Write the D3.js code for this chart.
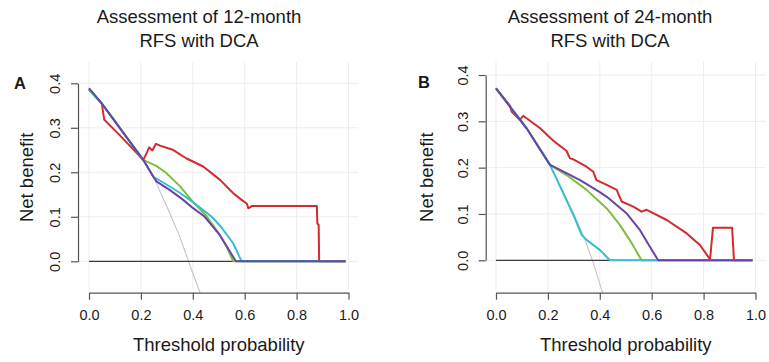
<!DOCTYPE html>
<html>
<head>
<meta charset="utf-8">
<script src="https://cdn.jsdelivr.net/npm/d3@7"></script>
<style>
  body { margin: 0; background: #fff; }
  text { font-family: "Liberation Sans", Arial, sans-serif; fill: #1a1a1a; }
</style>
</head>
<body>
<svg id="chart" width="769" height="362"></svg>
<script>
// tick values
var xTicks = [0, 0.2, 0.4, 0.6, 0.8, 1.0];
var yTicks = [0, 0.1, 0.2, 0.3, 0.4];

// panel A: 12-month RFS  ([threshold, net benefit])
var noneA   = [[0, 0], [0.99, 0]];
var allA    = [[0, 0.386], [0.1, 0.318], [0.2, 0.232], [0.248, 0.19], [0.3, 0.123], [0.35, 0.055], [0.396, -0.02], [0.427, -0.069], [0.44, -0.09]];
var redA    = [[0, 0.386], [0.049, 0.355], [0.059, 0.318], [0.119, 0.283], [0.209, 0.228], [0.222, 0.243], [0.232, 0.256], [0.244, 0.249], [0.258, 0.264], [0.274, 0.26], [0.325, 0.25], [0.376, 0.231], [0.44, 0.213], [0.505, 0.183], [0.556, 0.153], [0.588, 0.138], [0.608, 0.13], [0.614, 0.119], [0.627, 0.124], [0.878, 0.124], [0.88, 0.085], [0.885, 0.082], [0.887, 0], [0.99, 0]];
var greenA  = [[0, 0.386], [0.049, 0.355], [0.209, 0.228], [0.261, 0.214], [0.299, 0.198], [0.35, 0.169], [0.4, 0.134], [0.455, 0.1], [0.5, 0.063], [0.53, 0.033], [0.556, 0], [0.99, 0]];
var cyanA   = [[0, 0.386], [0.049, 0.355], [0.209, 0.228], [0.248, 0.19], [0.3, 0.172], [0.35, 0.154], [0.4, 0.133], [0.44, 0.115], [0.473, 0.1], [0.505, 0.08], [0.556, 0.04], [0.588, 0], [0.99, 0]];
var purpleA = [[0, 0.389], [0.049, 0.355], [0.209, 0.228], [0.248, 0.19], [0.261, 0.179], [0.312, 0.16], [0.363, 0.138], [0.4, 0.12], [0.446, 0.1], [0.505, 0.058], [0.543, 0.022], [0.566, 0], [0.988, 0]];

// panel B: 24-month RFS
var noneB   = [[0, 0], [0.99, 0]];
var allB    = [[0, 0.371], [0.1, 0.301], [0.2, 0.214], [0.259, 0.148], [0.3, 0.1], [0.336, 0.055], [0.375, -0.006], [0.412, -0.072]];
var redB    = [[0, 0.371], [0.054, 0.334], [0.06, 0.321], [0.092, 0.303], [0.105, 0.312], [0.17, 0.285], [0.221, 0.258], [0.272, 0.236], [0.285, 0.22], [0.298, 0.218], [0.349, 0.202], [0.375, 0.191], [0.387, 0.173], [0.427, 0.163], [0.465, 0.152], [0.484, 0.127], [0.529, 0.116], [0.561, 0.105], [0.581, 0.109], [0.658, 0.087], [0.735, 0.058], [0.786, 0.033], [0.825, 0.002], [0.836, 0.07], [0.91, 0.07], [0.917, 0], [0.99, 0]];
var greenB  = [[0, 0.371], [0.118, 0.285], [0.208, 0.206], [0.272, 0.184], [0.349, 0.152], [0.427, 0.112], [0.478, 0.076], [0.523, 0.037], [0.561, 0], [0.99, 0]];
var cyanB   = [[0, 0.371], [0.118, 0.285], [0.208, 0.206], [0.259, 0.145], [0.298, 0.098], [0.33, 0.055], [0.349, 0.044], [0.401, 0.022], [0.439, 0], [0.99, 0]];
var purpleB = [[0, 0.371], [0.118, 0.285], [0.208, 0.206], [0.247, 0.195], [0.324, 0.173], [0.4, 0.147], [0.427, 0.137], [0.504, 0.101], [0.555, 0.065], [0.593, 0.029], [0.625, 0], [0.988, 0]];

var colors = {none: "#3a3a3a", all: "#c4c4c4", red: "#d42a2c", green: "#7cbf3e", cyan: "#36bece", purple: "#6a43a6"};

var svg = d3.select("#chart");

function panel(cfg) {
  var g = svg.append("g");
  var x = d3.scaleLinear().domain([0, 1]).range(cfg.xr);
  var y = d3.scaleLinear().domain([0, 0.4]).range(cfg.yr);

  // grid
  g.selectAll(".vg").data(xTicks).enter().append("line")
    .attr("x1", d => x(d)).attr("x2", d => x(d))
    .attr("y1", cfg.box[1]).attr("y2", cfg.box[3] - 3)
    .attr("stroke", "#ededed").attr("stroke-width", 1);
  g.selectAll(".hg").data(yTicks).enter().append("line")
    .attr("x1", cfg.box[0]).attr("x2", cfg.box[2])
    .attr("y1", d => y(d)).attr("y2", d => y(d))
    .attr("stroke", "#ededed").attr("stroke-width", 1);

  // clip to plot region
  svg.append("clipPath").attr("id", cfg.id + "clip").append("rect")
    .attr("x", cfg.box[0]).attr("y", cfg.box[1])
    .attr("width", cfg.box[2] - cfg.box[0]).attr("height", cfg.box[3] - cfg.box[1]);

  var line = d3.line().x(d => x(d[0])).y(d => y(d[1]));
  var series = [
    {d: cfg.all, c: colors.all, w: 1.1},
    {d: cfg.none, c: colors.none, w: 1.3},
    {d: cfg.red, c: colors.red, w: 2},
    {d: cfg.green, c: colors.green, w: 2},
    {d: cfg.cyan, c: colors.cyan, w: 2},
    {d: cfg.purple, c: colors.purple, w: 2}
  ];
  g.append("g").attr("clip-path", "url(#" + cfg.id + "clip)")
    .selectAll("path").data(series).enter().append("path")
    .attr("fill", "none")
    .attr("stroke", d => d.c)
    .attr("stroke-width", d => d.w)
    .attr("stroke-linejoin", "round")
    .attr("d", d => line(d.d));

  // x axis
  var xa = g.append("g").attr("transform", "translate(0," + cfg.box[3] + ")")
    .call(d3.axisBottom(x).tickValues(xTicks).tickSize(7).tickSizeOuter(0).tickFormat(d3.format(".1f")));
  xa.selectAll("text").attr("y", 17).attr("dy", "0.71em").style("font-size", "14.5px");

  // y axis
  var ya = g.append("g").attr("transform", "translate(" + cfg.box[0] + ",0)")
    .call(d3.axisLeft(y).tickValues(yTicks).tickSize(7).tickSizeOuter(0).tickFormat(d3.format(".1f")));
  ya.selectAll("text").attr("transform", "rotate(-90)")
    .attr("x", 0).attr("y", -18).attr("dy", 0)
    .attr("text-anchor", "middle").style("font-size", "14.5px");
  g.selectAll(".domain, .tick line").attr("stroke", "#555").attr("stroke-width", 1.2);
  g.selectAll(".tick text").attr("fill", "#1a1a1a").style("font-family", "Liberation Sans, Arial, sans-serif");

  // labels
  g.append("text").attr("x", (x(0) + x(1)) / 2).attr("y", 351)
    .attr("text-anchor", "middle").style("font-size", "18.5px").text("Threshold probability");
  g.append("text").attr("transform", "translate(" + cfg.ylabX + "," + ((cfg.box[1] + cfg.box[3]) / 2) + ") rotate(-90)")
    .attr("text-anchor", "middle").style("font-size", "18.5px").text("Net benefit");
  g.append("text").attr("x", cfg.titleX).attr("y", 23)
    .attr("text-anchor", "middle").style("font-size", "18.5px").text(cfg.title[0]);
  g.append("text").attr("x", cfg.titleX).attr("y", 46.5)
    .attr("text-anchor", "middle").style("font-size", "18.5px").text(cfg.title[1]);
  g.append("text").attr("x", cfg.tag[0]).attr("y", cfg.tag[1])
    .attr("text-anchor", "middle").style("font-size", "16.5px").style("font-weight", "bold").text(cfg.tagText);
}

panel({id: "a", xr: [89, 348.5], yr: [261.3, 83.3], box: [78, 62, 358, 292.7],
  none: noneA, all: allA, red: redA, green: greenA, cyan: cyanA, purple: purpleA,
  ylabX: 33, titleX: 199, title: ["Assessment of 12-month", "RFS with DCA"], tag: [20, 88.5], tagText: "A"});
panel({id: "b", xr: [496, 755.5], yr: [260.3, 75], box: [485.7, 61.7, 765.7, 292.7],
  none: noneB, all: allB, red: redB, green: greenB, cyan: cyanB, purple: purpleB,
  ylabX: 433, titleX: 610, title: ["Assessment of 24-month", "RFS with DCA"], tag: [424, 88.3], tagText: "B"});
</script>
</body>
</html>
